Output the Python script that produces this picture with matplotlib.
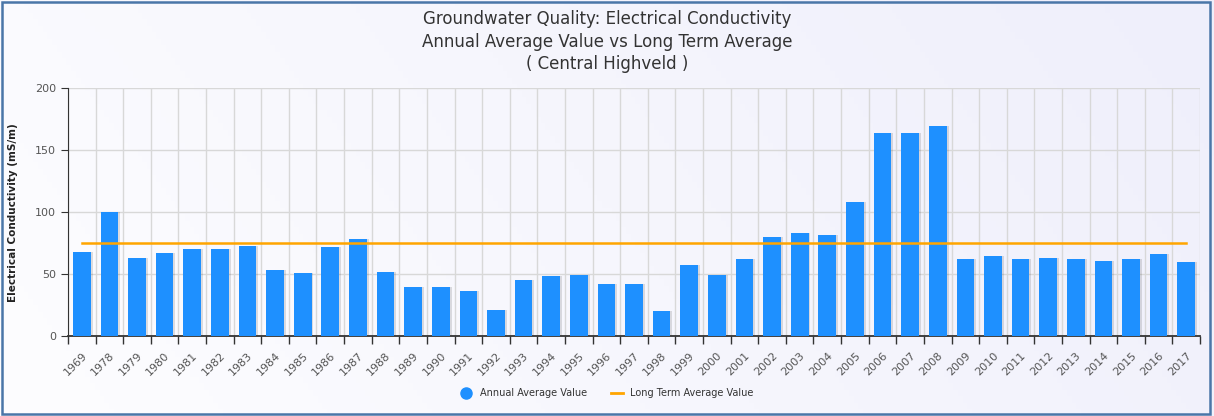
import numpy as np
import matplotlib
matplotlib.use("Agg")
import matplotlib.pyplot as plt
from matplotlib.patches import Rectangle
from matplotlib.lines import Line2D
from matplotlib.colors import LinearSegmentedColormap

# data
years = ["1969", "1978", "1979", "1980", "1981", "1982", "1983", "1984", "1985",
         "1986", "1987", "1988", "1989", "1990", "1991", "1992", "1993", "1994",
         "1995", "1996", "1997", "1998", "1999", "2000", "2001", "2002", "2003",
         "2004", "2005", "2006", "2007", "2008", "2009", "2010", "2011", "2012",
         "2013", "2014", "2015", "2016", "2017"]
annual_avg = [68, 100, 63, 67, 70, 70, 72.5, 53, 51, 72, 78.5, 52, 40, 39.5, 36,
              21, 45, 48.5, 49.5, 41.7, 41.7, 20, 57, 49.5, 62.6, 80, 83, 81.5,
              108, 164, 163.5, 169.5, 62, 64.3, 62.6, 63.4, 62, 61, 62.6, 66, 59.5]
long_term_avg = 75.3

title = "Groundwater Quality: Electrical Conductivity\nAnnual Average Value vs Long Term Average\n( Central Highveld )"

bar_col = "#1e90ff"
line_col = "#ffa500"

fig = plt.figure(figsize=(12.14, 4.16), dpi=100)

# background gradient + frame
bg = fig.add_axes([0, 0, 1, 1], zorder=-10)
gx = np.linspace(0, 1, 256)
gy = np.linspace(0, 1, 64)
G = np.clip(gx[None, :] * 0.8 + (1 - gy[:, None]) * 0.2, 0, 1)
cmap = LinearSegmentedColormap.from_list("bgc", ["#fdfdff", "#efeffb"])
bg.imshow(G, cmap=cmap, aspect="auto", extent=[0, 1, 0, 1], origin="upper")
bg.add_patch(Rectangle((0.002, 0.004), 0.995, 0.99, fill=False,
                       edgecolor="#4a76a8", lw=1.8, transform=bg.transAxes))
bg.set_xlim(0, 1)
bg.set_ylim(0, 1)
bg.axis("off")

ax = fig.add_axes([0.056, 0.192, 0.9325, 0.596])
ax.patch.set_alpha(0)
x = np.arange(len(years))

# bar shadows
ax.bar(x + 0.06, annual_avg, width=0.66, color="#000000", alpha=0.12, zorder=2)
ax.bar(x, annual_avg, width=0.64, color=bar_col, zorder=3)
ax.plot([x[0], x[-1]], [long_term_avg, long_term_avg], color=line_col, lw=1.8, zorder=4)

ax.set_xlim(-0.5, len(years) - 0.5)
ax.set_ylim(0, 200)
ax.set_yticks([0, 50, 100, 150, 200])
ax.set_xticks(x)
ax.set_xticklabels(years, rotation=45, ha="right", rotation_mode="anchor",
                   fontsize=8, color="#555555")
ax.tick_params(axis="x", which="major", length=0, pad=10)
ax.set_xticks(np.arange(-0.5, len(years), 1), minor=True)
ax.tick_params(axis="x", which="minor", length=6, width=1, color="#333333")
ax.tick_params(axis="y", length=5, labelsize=8, labelcolor="#555555", color="#333333")

ax.grid(True, axis="y", color="#d8d8d8", lw=1, zorder=0)
ax.grid(True, axis="x", which="minor", color="#d8d8d8", lw=1, zorder=0)
ax.set_axisbelow(True)
for s in ["top", "right"]:
    ax.spines[s].set_visible(False)
ax.spines["left"].set_color("#333333")
ax.spines["bottom"].set_color("#333333")
ax.spines["bottom"].set_linewidth(1.3)

ax.set_ylabel("Electrical Conductivity (mS/m)", fontsize=7.5, fontweight="bold",
              color="#222222", labelpad=12)

fig.text(0.5, 0.9, title, ha="center", va="center", fontsize=12,
         color="#333333", linespacing=1.3)

handles = [Line2D([], [], marker="o", ls="none", color=bar_col, markersize=8),
           Line2D([], [], color=line_col, lw=2)]
fig.legend(handles, ["Annual Average Value", "Long Term Average Value"],
           loc="center", bbox_to_anchor=(0.5, 0.055), ncol=2, frameon=False,
           fontsize=7, handlelength=1.2, columnspacing=2.5, labelcolor="#333333")

fig.savefig("out.png", dpi=100)
